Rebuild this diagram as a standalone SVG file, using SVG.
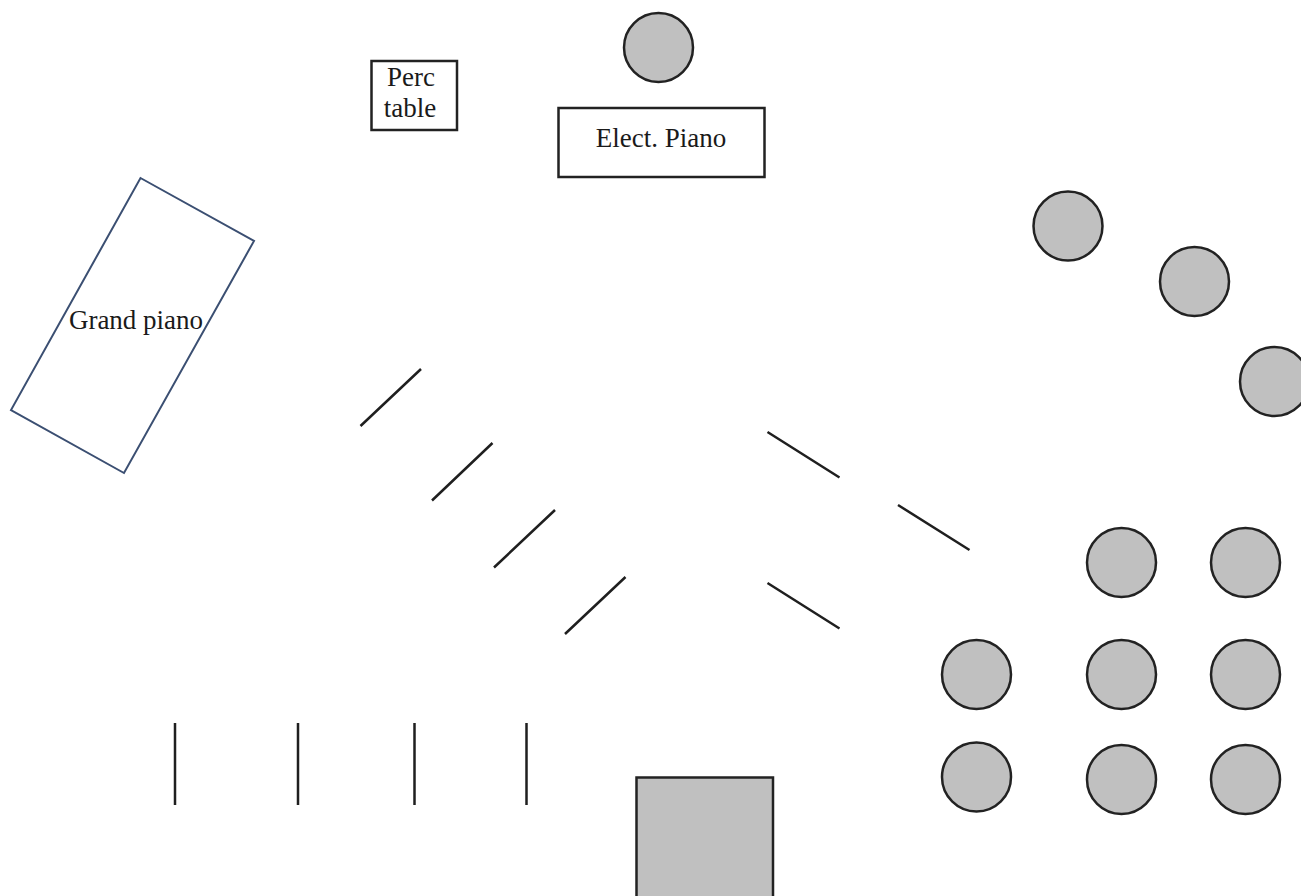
<svg xmlns="http://www.w3.org/2000/svg" width="1301" height="896" viewBox="0 0 1301 896">
<style>
.c{fill:#c0c0c0;stroke:#222;stroke-width:2.500}
.b{fill:#fff;stroke:#222;stroke-width:2.500}
.l{stroke:#1f1f1f;stroke-width:2.500;fill:none}
text{font-family:"Liberation Serif","Times New Roman",serif;font-size:27px;fill:#1a1a1a;text-anchor:middle}
</style>
<rect width="1301" height="896" fill="#fff"/>
<g id="perc-table"><rect class="b" x="371.500" y="61" width="85.500" height="69"/><text x="411" y="86">Perc</text><text x="410" y="117">table</text></g>
<g id="player-top"><circle class="c" cx="658.500" cy="47.500" r="34.500"/></g>
<g id="elect-piano"><rect class="b" x="558.500" y="108" width="206" height="69"/><text x="661" y="147">Elect. Piano</text></g>
<g id="grand-piano"><polygon points="140.500,178 254,241 124,473 11,410" fill="#fff" stroke="#3b4f72" stroke-width="2"/><text x="136" y="329">Grand piano</text></g>
<g id="c1"><circle class="c" cx="1068" cy="226" r="34.500"/></g>
<g id="c2"><circle class="c" cx="1194.500" cy="281.500" r="34.500"/></g>
<g id="c3"><circle class="c" cx="1274.500" cy="381.500" r="34.500"/></g>
<g id="c4"><circle class="c" cx="1121.500" cy="562.500" r="34.500"/></g>
<g id="c5"><circle class="c" cx="1245.500" cy="562.500" r="34.500"/></g>
<g id="c6"><circle class="c" cx="976.500" cy="674.500" r="34.500"/></g>
<g id="c7"><circle class="c" cx="1121.500" cy="674.500" r="34.500"/></g>
<g id="c8"><circle class="c" cx="1245.500" cy="674.500" r="34.500"/></g>
<g id="c9"><circle class="c" cx="976.500" cy="777" r="34.500"/></g>
<g id="c10"><circle class="c" cx="1121.500" cy="779.500" r="34.500"/></g>
<g id="c11"><circle class="c" cx="1245.500" cy="779.500" r="34.500"/></g>
<g id="square"><rect class="c" x="636.500" y="777.500" width="136.500" height="125"/></g>
<g id="connectors">
<path class="l" d="M360.500 426L421 369M432 500.500L492.500 443M494 567.500L555 510M565 634L625.500 577"/>
<path class="l" d="M767.500 432L839.500 477.500M898 505L969.500 550M767.500 583L839.500 628.500"/>
<path class="l" d="M175 723V805M298 723V805M414.500 723V805M526.500 723V805"/>
</g>
</svg>
